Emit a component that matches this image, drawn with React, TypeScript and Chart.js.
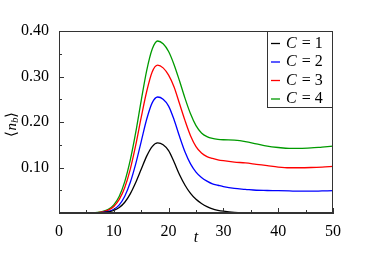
import React, { useEffect, useRef } from "react";
import { Chart, registerables } from "chart.js";

Chart.register(...registerables);

const tValues = [0, 2, 4, 6, 7, 8, 9, 10, 11, 12, 13, 14, 15, 16, 17, 18, 19, 20, 21, 22, 23, 24, 25, 26, 27, 28, 29, 30, 32, 34, 36, 38, 40, 42, 44, 46, 48, 50];

const seriesC1 = [0, 0, 0, 0.0001, 0.0003, 0.0008, 0.0023, 0.0055, 0.012, 0.0236, 0.042, 0.067, 0.096, 0.125, 0.146, 0.154, 0.150, 0.137, 0.112, 0.084, 0.061, 0.043, 0.030, 0.021, 0.014, 0.009, 0.006, 0.004, 0.0015, 0.0006, 0.0002, 0.0001, 0, 0, 0, 0, 0, 0];
const seriesC2 = [0, 0, 0, 0.0001, 0.0004, 0.0012, 0.0033, 0.0082, 0.018, 0.037, 0.067, 0.108, 0.157, 0.206, 0.242, 0.255, 0.250, 0.235, 0.205, 0.168, 0.134, 0.108, 0.090, 0.078, 0.070, 0.064, 0.061, 0.058, 0.054, 0.052, 0.050, 0.0495, 0.049, 0.0485, 0.048, 0.048, 0.0485, 0.049];
const seriesC3 = [0, 0, 0, 0.0003, 0.0009, 0.0025, 0.0063, 0.0144, 0.0298, 0.056, 0.096, 0.149, 0.210, 0.267, 0.310, 0.325, 0.319, 0.303, 0.277, 0.240, 0.203, 0.170, 0.146, 0.132, 0.124, 0.120, 0.117, 0.115, 0.112, 0.110, 0.107, 0.104, 0.101, 0.0995, 0.0995, 0.100, 0.101, 0.1025];
const seriesC4 = [0, 0, 0, 0.0004, 0.0012, 0.0033, 0.0081, 0.018, 0.037, 0.069, 0.116, 0.177, 0.247, 0.313, 0.360, 0.378, 0.372, 0.355, 0.326, 0.290, 0.252, 0.218, 0.192, 0.176, 0.168, 0.164, 0.162, 0.161, 0.160, 0.157, 0.152, 0.147, 0.144, 0.142, 0.142, 0.143, 0.145, 0.147];

const seriesNames = ["1", "2", "3", "4"];
const seriesColors = ["#000000", "#0000ff", "#ff0000", "#009a00"];
const allSeries = [seriesC1, seriesC2, seriesC3, seriesC4];

const xTickValues = [0, 5, 10, 15, 20, 25, 30, 35, 40, 45, 50];
const yTickValues = [0, 0.05, 0.1, 0.15, 0.2, 0.25, 0.3, 0.35, 0.4];

const SERIF = "'Liberation Serif', 'Times New Roman', serif";

const decorPlugin = {
  id: "decor",
  afterDraw(chart: any) {
    const ctx = chart.ctx;
    const { left, right, top, bottom } = chart.chartArea;
    const xs = chart.scales.x;
    const ys = chart.scales.y;
    ctx.save();
    // frame
    ctx.strokeStyle = "#333333";
    ctx.lineWidth = 1;
    ctx.strokeRect(left + 0.5, top + 0.5, right - left - 1, bottom - top - 1);
    // inward ticks
    ctx.beginPath();
    xTickValues.forEach((v, i) => {
      const px = Math.round(xs.getPixelForValue(v)) + 0.5;
      const len = i % 2 === 0 ? 5 : 3;
      ctx.moveTo(px, bottom);
      ctx.lineTo(px, bottom - len);
    });
    yTickValues.forEach((v, i) => {
      const py = Math.round(ys.getPixelForValue(v)) + 0.5;
      const len = i % 2 === 0 ? 5 : 3;
      ctx.moveTo(left, py);
      ctx.lineTo(left + len, py);
    });
    ctx.stroke();

    // x title
    ctx.fillStyle = "#000";
    ctx.textAlign = "center";
    ctx.textBaseline = "middle";
    ctx.font = "italic 16px " + SERIF;
    ctx.fillText("t", (left + right) / 2, 238);

    // y title <n_b>
    ctx.save();
    ctx.translate(12, (top + bottom) / 2 + 2);
    ctx.rotate(-Math.PI / 2);
    ctx.textAlign = "left";
    ctx.textBaseline = "middle";
    const parts: [string, string, number][] = [
      ["⟨", "15px " + SERIF, 0],
      ["n", "italic 15px " + SERIF, 0],
      ["b", "italic 11px " + SERIF, 3],
      ["⟩", "15px " + SERIF, 0],
    ];
    let total = 0;
    parts.forEach(([s, f]) => {
      ctx.font = f;
      total += ctx.measureText(s).width;
    });
    let cx = -total / 2;
    parts.forEach(([s, f, dy]) => {
      ctx.font = f;
      ctx.fillText(s, cx, dy);
      cx += ctx.measureText(s).width;
    });
    ctx.restore();

    // legend
    const bx = 267;
    const by = top;
    const bw = right - bx;
    const bh = 77;
    ctx.fillStyle = "#ffffff";
    ctx.fillRect(bx, by, bw, bh);
    ctx.strokeStyle = "#333333";
    ctx.lineWidth = 1;
    ctx.strokeRect(bx + 0.5, by + 0.5, bw - 1, bh - 1);
    const rows = [43.5, 62, 80.5, 99];
    chart.data.datasets.forEach((ds: any, i: number) => {
      const y = rows[i];
      ctx.strokeStyle = ds.borderColor;
      ctx.lineWidth = 1.3;
      ctx.beginPath();
      ctx.moveTo(271, y);
      ctx.lineTo(280, y);
      ctx.stroke();
      ctx.fillStyle = "#000";
      ctx.textAlign = "left";
      ctx.textBaseline = "middle";
      ctx.font = "italic 16px " + SERIF;
      ctx.fillText("C", 286, y);
      const w = ctx.measureText("C").width;
      ctx.font = "16px " + SERIF;
      ctx.fillText(" = " + seriesNames[i], 286 + w + 1, y);
    });
    ctx.restore();
  },
};

export default function App() {
  const ref = useRef<HTMLCanvasElement>(null);
  useEffect(() => {
    if (!ref.current) return;
    const chart = new Chart(ref.current, {
      type: "line",
      data: {
        datasets: allSeries.map((s, i) => ({
          label: "C = " + seriesNames[i],
          data: s.map((v, j) => ({ x: tValues[j], y: v })),
          borderColor: seriesColors[i],
          backgroundColor: seriesColors[i],
          borderWidth: 1.3,
          pointRadius: 0,
          cubicInterpolationMode: "monotone" as const,
          fill: false,
        })),
      },
      options: {
        animation: false,
        responsive: false,
        maintainAspectRatio: false,
        layout: { padding: { top: 31, right: 41, left: 0, bottom: 0 } },
        plugins: { legend: { display: false }, tooltip: { enabled: false } },
        scales: {
          x: {
            type: "linear",
            min: 0,
            max: 50,
            grid: { display: false },
            border: { display: true, color: "#333333", width: 1 },
            ticks: {
              stepSize: 10,
              padding: 1,
              color: "#000",
              font: { family: SERIF, size: 16 },
              maxRotation: 0,
            },
            afterFit: (s: any) => {
              s.height = 47;
            },
          },
          y: {
            type: "linear",
            min: 0,
            max: 0.4,
            grid: { display: false },
            border: { display: true, color: "#333333", width: 1 },
            ticks: {
              stepSize: 0.1,
              padding: 2,
              color: "#000",
              font: { family: SERIF, size: 16 },
              callback: (v: any) => (Number(v) === 0 ? "" : Number(v).toFixed(2)),
            },
            afterFit: (s: any) => {
              s.width = 59;
            },
          },
        },
      },
      plugins: [decorPlugin],
    });
    return () => chart.destroy();
  }, []);
  return (
    <div style={{ position: "fixed", left: 0, top: 0, width: 374, height: 260, background: "#fff" }}>
      <canvas ref={ref} width={374} height={260} style={{ width: 374, height: 260 }} />
    </div>
  );
}
